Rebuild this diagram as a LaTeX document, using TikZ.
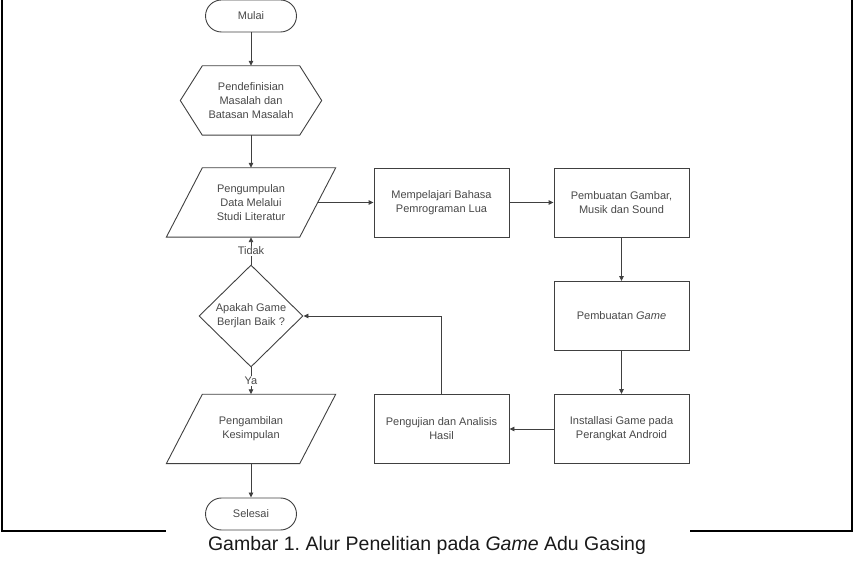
\documentclass[tikz,border=0pt]{standalone}
\usepackage{fontspec}
\setmainfont{Liberation Sans}
\usetikzlibrary{shapes.geometric,arrows.meta}
\definecolor{ln}{HTML}{404040}
\definecolor{tx}{HTML}{484848}
\begin{document}
\frenchspacing
\begin{tikzpicture}[x=1pt,y=-1pt,
 every node/.style={font=\fontsize{11}{14}\selectfont, text=tx, align=center},
 term/.style={draw=ln, line width=0.9pt, rounded corners=16pt, minimum width=91pt, minimum height=32pt, inner sep=0pt},
 proc/.style={draw=ln, line width=0.9pt, minimum width=135pt, minimum height=69pt, inner sep=0pt},
 io/.style={minimum width=133pt, minimum height=69pt, inner sep=0pt},
 hexa/.style={minimum width=97pt, minimum height=69pt, inner sep=0pt},
 outl/.style={draw=ln, line width=0.9pt},
 dec/.style={diamond, draw=ln, line width=0.9pt, minimum width=104pt, minimum height=102pt, inner sep=0pt, aspect=1.02},
 arr/.style={draw=ln, line width=0.9pt, -{Triangle[length=5pt,width=4.5pt]}},
 frame/.style={draw=black, line width=1.2pt},
 lbl/.style={fill=white, inner sep=1pt},
 ]
\useasboundingbox (0,0) rectangle (855,569);
% frame
\draw[frame] (2,0) -- (2,531) -- (166,531);
\draw[frame] (690,531) -- (852,531) -- (852,0);
% nodes
\node[term] (start) at (251,16) {Mulai};
\node[hexa] (def) at (251,100.5) {Pendefinisian\\Masalah dan\\Batasan Masalah};
\draw[outl] (def.north west) -- (def.north east) -- ([xshift=22pt]def.east) -- (def.south east) -- (def.south west) -- ([xshift=-22pt]def.west) -- cycle;
\node[io] (data) at (251,202.5) {Pengumpulan\\Data Melalui\\Studi Literatur};
\draw[outl] ([xshift=18pt]data.north west) -- ([xshift=18pt]data.north east) -- ([xshift=-18pt]data.south east) -- ([xshift=-18pt]data.south west) -- cycle;
\node[proc] (lua) at (441.5,202.5) {Mempelajari Bahasa\\Pemrograman Lua};
\node[proc] (gbr) at (621.5,202.5) {Pembuatan Gambar,\\Musik dan Sound};
\node[proc] (game) at (621.5,316) {Pembuatan \textit{Game}};
\node[proc] (inst) at (621.5,429) {Installasi Game pada\\Perangkat Android};
\node[proc] (uji) at (441.5,429) {Pengujian dan Analisis\\Hasil};
\node[dec] (cek) at (251,316) {Apakah Game\\Berjlan Baik ?};
\node[io] (simp) at (251,429) {Pengambilan\\Kesimpulan};
\draw[outl] ([xshift=18pt]simp.north west) -- ([xshift=18pt]simp.north east) -- ([xshift=-18pt]simp.south east) -- ([xshift=-18pt]simp.south west) -- cycle;
\node[term] (end) at (251,514) {Selesai};
% connectors
\draw[arr] (start) -- (def);
\draw[arr] (def) -- (data);
\draw[arr] (data) -- (lua);
\draw[arr] (lua) -- (gbr);
\draw[arr] (gbr) -- (game);
\draw[arr] (game) -- (inst);
\draw[arr] (inst) -- (uji);
\draw[arr] (uji.north) |- (cek.east);
\draw[arr] (cek.north) -- node[lbl] {Tidak} (data.south);
\draw[arr] (cek.south) -- node[lbl] {Ya} (simp.north);
\draw[arr] (simp) -- (end);
% caption
\node[font=\fontsize{19.5}{22}\selectfont, text=black!90] (cap) at (427,545) {Gambar 1. Alur Penelitian pada \textit{Game} Adu Gasing};
\end{tikzpicture}
\end{document}
